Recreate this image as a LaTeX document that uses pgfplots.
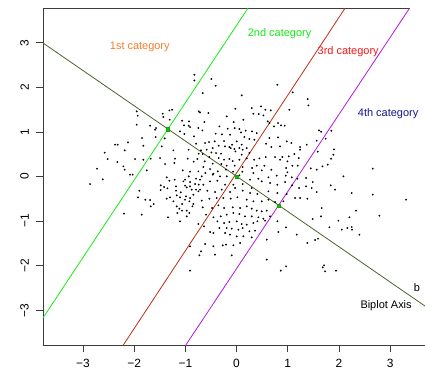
\documentclass[border=0pt]{standalone}
\usepackage{pgfplots}
\pgfplotsset{compat=1.18}
\usepackage{fontspec}
\setmainfont{Liberation Sans}
\definecolor{catgreen}{RGB}{20,235,20}
\definecolor{catbrown}{RGB}{190,45,20}
\definecolor{catpurple}{RGB}{185,20,225}
\definecolor{biplot}{RGB}{75,100,40}
\definecolor{lblorange}{RGB}{245,125,40}
\definecolor{lblred}{RGB}{245,20,20}
\definecolor{lblblue}{RGB}{20,20,140}
\definecolor{axgray}{RGB}{60,60,60}
% points in pixel units of zoomed crops:
% region origin (#1,#2) px, crop scale 3; 51.2 px per x unit, 44.6 px per y unit
\pgfplotsset{table/reg/.style 2 args={row sep=\\,
  x expr={(#1+\thisrow{zx}/3-236.5)/51.2},
  y expr={(176.8-#2-\thisrow{zy}/3)/44.6}},
  pt/.style={only marks, mark=*, mark size=0.7pt, black, mark options={draw=black, fill=black}}}
\begin{document}
\begin{tikzpicture}
\path[use as bounding box] (-43bp,-33bp) rectangle (382bp,345bp);
\begin{axis}[
  scale only axis, width=382bp, height=337bp,
  xmin=-3.78, xmax=3.68, ymin=-3.78, ymax=3.78,
  axis line style={draw=none},
  tick align=outside, tick pos=left,
  major tick length=7bp,
  tick style={axgray, line width=0.8pt},
  xtick={-3,-2,-1,0,1,2,3}, ytick={-3,-2,-1,0,1,2,3},
  xticklabels={−3,−2,−1,0,1,2,3},
  yticklabels={−3,−2,−1,0,1,2,3},
  ticklabel style={font=\fontsize{12}{14}\selectfont, text=black},
  xticklabel style={anchor=north, inner sep=0pt, yshift=-7bp},
  yticklabel style={rotate=90, anchor=south, inner sep=0pt, xshift=0bp, yshift=7bp},
  clip=true,
]
% frame lines (left, bottom, top)
\draw[axgray, line width=0.9pt] (rel axis cs:0,1) -- (rel axis cs:0,0) -- (rel axis cs:1,0);
\draw[axgray, line width=0.9pt] (rel axis cs:0,1) -- (rel axis cs:0.96,1);

% scatter
\addplot[pt] table[reg={90}{60}] {zx zy\\
313 45\\ 313 62\\ 238 152\\ 246 150\\ 140 155\\ 143 168\\ 218 162\\ 220 172\\ 239 180\\ 276 183\\
297 185\\ 282 197\\ 296 198\\ 300 202\\ 326 155\\ 140 195\\ 180 198\\ 198 205\\ 195 210\\ 270 215\\
283 223\\ 325 205\\ 156 235\\ 197 232\\ 224 236\\ 312 230\\ 318 252\\ 75 255\\ 83 255\\ 114 248\\
160 258\\ 215 260\\ 104 272\\ 250 272\\ 296 270\\ 44 279\\ 326 282\\ 53 298\\ 135 298\\ 82 307\\
160 300\\ 182 297\\ 210 295\\ 255 297\\ 293 297\\ 322 298\\ 253 310\\ 311 306\\ 100 320\\ 225 313\\
21 327\\ 104 330\\ 170 332\\ 278 332\\ 300 336\\ 325 335\\ 128 345\\
};
\addplot[pt] table[reg={200}{60}] {zx zy\\
47 78\\ 34 58\\ 8 100\\ 125 107\\ 232 75\\ 278 98\\ 323 118\\ 325 137\\ 106 147\\ 0 158\\
25 160\\ 155 145\\ 183 140\\ 196 150\\ 212 152\\ 160 162\\ 176 163\\ 190 167\\ 80 170\\ 130 180\\
101 187\\ 13 187\\ 268 150\\ 234 190\\ 243 197\\ 222 200\\ 254 198\\ 203 185\\ 208 190\\ 58 200\\
83 207\\ 104 205\\ 118 208\\ 137 213\\ 123 218\\ 156 215\\ 170 220\\ 7 212\\ 47 222\\ 66 224\\
90 225\\ 133 232\\ 148 238\\ 163 240\\ 110 245\\ 44 245\\ 72 244\\ 27 247\\ 15 250\\ 96 255\\
125 255\\ 75 260\\ 88 262\\ 92 265\\ 103 268\\ 118 265\\ 128 270\\ 140 265\\ 56 258\\ 38 265\\
20 270\\ 3 272\\ 34 278\\ 48 280\\ 63 282\\ 106 275\\ 125 285\\ 148 280\\ 8 283\\ 28 292\\
56 295\\ 72 300\\ 88 298\\ 98 304\\ 118 300\\ 140 296\\ 162 300\\ 178 296\\ 197 292\\ 225 292\\
247 292\\ 266 290\\ 283 283\\ 300 270\\ 240 260\\ 260 245\\ 274 250\\ 214 262\\ 234 233\\ 208 235\\
198 252\\ 296 295\\ 300 262\\ 320 255\\ 14 305\\ 38 312\\ 64 313\\ 80 318\\ 104 318\\ 128 322\\
156 325\\ 170 318\\ 193 318\\ 240 300\\ 262 305\\ 277 318\\ 293 318\\ 10 322\\ 30 328\\ 53 335\\
78 330\\ 99 336\\ 127 336\\ 160 340\\ 185 332\\ 214 330\\ 258 325\\ 262 338\\ 16 340\\ 40 342\\
};
\addplot[pt] table[reg={310}{60}] {zx zy\\
27 212\\ 33 216\\ 64 213\\ 20 243\\ 47 237\\ 23 276\\ 72 269\\ 70 285\\ 63 297\\ 53 315\\
37 320\\ 20 330\\ 2 326\\ 188 327\\
};
\addplot[pt] table[reg={90}{175}] {zx zy\\
0 28\\ 38 14\\ 120 0\\ 148 48\\ 144 68\\ 166 75\\ 180 76\\ 191 88\\ 182 95\\ 102 117\\
155 120\\ 230 8\\ 238 18\\ 254 15\\ 212 32\\ 222 37\\ 212 46\\ 232 41\\ 258 35\\ 258 48\\
272 53\\ 260 62\\ 270 68\\ 240 68\\ 230 72\\ 250 80\\ 285 15\\ 296 5\\ 280 20\\ 300 22\\
285 33\\ 300 35\\ 290 38\\ 305 45\\ 318 45\\ 325 50\\ 315 28\\ 326 30\\ 318 12\\ 310 60\\
300 70\\ 288 65\\ 285 75\\ 298 80\\ 310 88\\ 307 95\\ 276 88\\ 260 95\\ 268 102\\ 276 108\\
262 115\\ 290 108\\ 298 115\\ 290 125\\ 234 128\\ 270 140\\ 325 148\\ 300 215\\ 328 242\\ 300 288\\
};
\addplot[pt] table[reg={200}{175}] {zx zy\\
5 5\\ 38 0\\ 60 5\\ 80 5\\ 118 2\\ 150 15\\ 175 12\\ 205 8\\ 230 3\\ 257 3\\
275 8\\ 292 12\\ 318 10\\ 0 15\\ 10 30\\ 30 20\\ 52 18\\ 75 30\\ 100 30\\ 128 28\\
155 40\\ 185 20\\ 210 25\\ 232 30\\ 255 22\\ 276 32\\ 297 40\\ 318 35\\ 0 45\\ 22 48\\
45 52\\ 65 45\\ 90 52\\ 105 40\\ 128 48\\ 150 55\\ 172 58\\ 205 50\\ 232 55\\ 260 58\\
285 70\\ 300 70\\ 322 72\\ 5 78\\ 28 72\\ 50 70\\ 70 70\\ 92 72\\ 112 68\\ 140 75\\
160 80\\ 185 80\\ 205 75\\ 225 82\\ 250 80\\ 8 98\\ 36 100\\ 55 92\\ 72 100\\ 98 98\\
120 100\\ 140 95\\ 155 102\\ 170 108\\ 185 110\\ 200 108\\ 18 120\\ 40 128\\ 62 125\\ 80 120\\
100 115\\ 118 118\\ 135 125\\ 155 125\\ 175 128\\ 190 132\\ 210 125\\ 52 140\\ 72 145\\ 88 142\\
110 140\\ 125 148\\ 140 150\\ 160 145\\ 172 140\\ 195 138\\ 232 140\\ 258 158\\ 12 155\\ 30 172\\
40 175\\ 58 160\\ 80 160\\ 95 162\\ 115 165\\ 128 160\\ 148 170\\ 165 168\\ 75 175\\ 90 180\\
110 185\\ 130 185\\ 155 188\\ 120 205\\ 200 195\\ 235 172\\ 290 180\\ 322 205\\ 15 208\\ 40 215\\
68 212\\ 78 210\\ 100 212\\ 45 240\\ 95 242\\ 200 255\\ 258 275\\ 242 288\\ 3 230\\
};
\addplot[pt] table[reg={310}{175}] {zx zy\\
8 22\\ 5 40\\ 20 52\\ 62 32\\ 75 45\\ 100 5\\ 125 55\\ 188 60\\ 288 75\\ 35 100\\
33 125\\ 8 133\\ 138 108\\ 118 128\\ 85 138\\ 58 158\\ 95 165\\ 112 160\\ 125 157\\ 126 165\\
148 180\\ 208 123\\ 15 196\\ 24 192\\ 42 272\\ 38 278\\ 45 290\\ 78 288\\
};

% category boundary lines and biplot axis
\addplot[no marks, sharp plot, catgreen, line width=0.8pt] coordinates {(-3.9,-3.38) (0.3,3.91)};
\addplot[no marks, sharp plot, catbrown, line width=0.8pt] coordinates {(-2.28,-3.9) (2.19,3.9)};
\addplot[no marks, sharp plot, catpurple, line width=0.8pt] coordinates {(-1.06,-3.9) (3.45,3.9)};
\addplot[no marks, sharp plot, biplot, line width=0.8pt] coordinates {(-3.9,3.09) (3.9,-3.08)};
\addplot[only marks, mark=square*, mark size=1.7pt, mark options={draw=catgreen!70!black, fill=catgreen!80!black}] coordinates {(-1.34,1.06) (0.0,0.0) (0.82,-0.65)};

% labels
\node[text=lblorange, font=\fontsize{11}{13}\selectfont] at (axis cs:-1.89,2.91) {1st category};
\node[text=catgreen, font=\fontsize{11}{13}\selectfont] at (axis cs:0.84,3.2) {2nd category};
\node[text=lblred, font=\fontsize{11}{13}\selectfont] at (axis cs:2.18,2.8) {3rd category};
\node[text=lblblue, font=\fontsize{11}{13}\selectfont] at (axis cs:2.96,1.41) {4th category};
\node[font=\fontsize{11}{13}\selectfont] at (axis cs:3.52,-2.5) {b};
\node[font=\fontsize{11}{13}\selectfont] at (axis cs:2.92,-2.9) {Biplot Axis};
\end{axis}
\end{tikzpicture}
\end{document}
